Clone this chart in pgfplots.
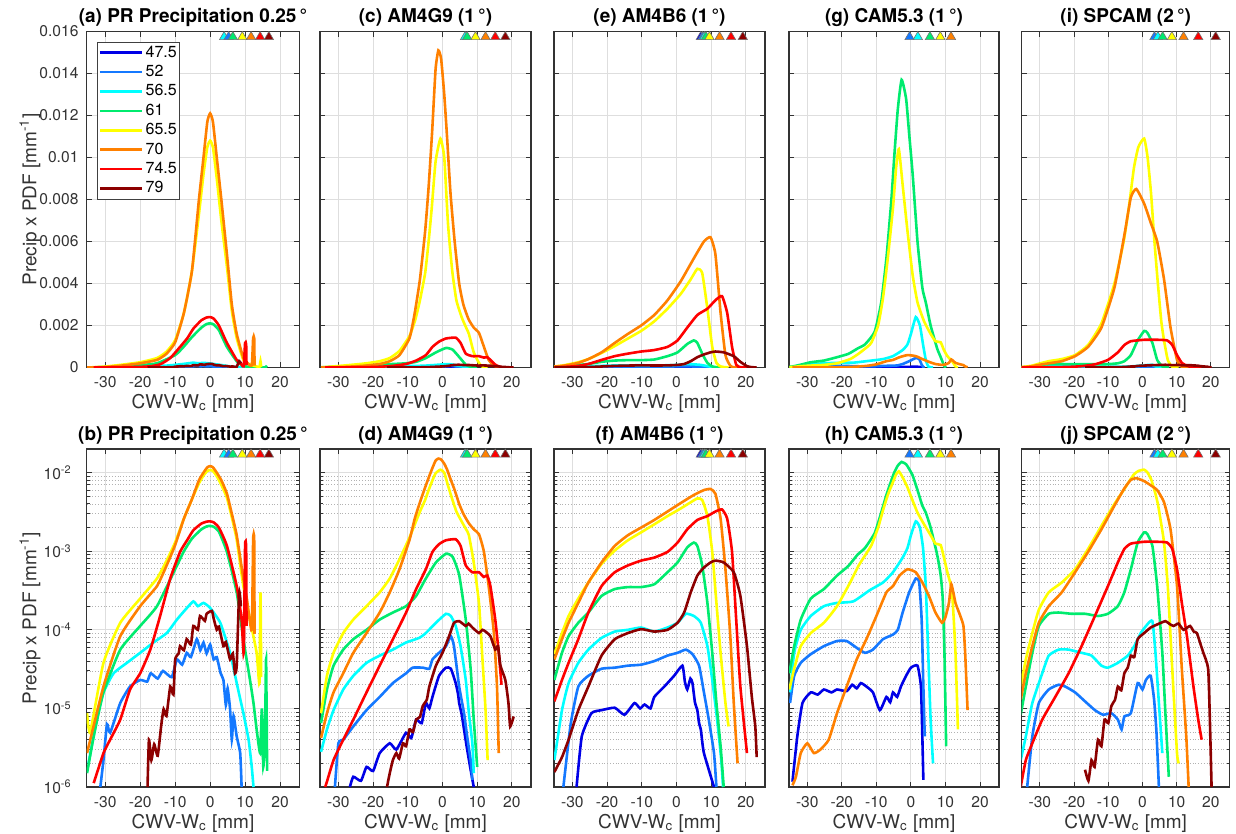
\documentclass[border=0pt]{standalone}
\usepackage{pgfplots}
\usepackage{pgfplotstable}
\pgfplotsset{compat=1.18}
\usepackage{fontspec}
\setmainfont{TeX Gyre Heros}

\definecolor{cA}{RGB}{0,0,230}
\definecolor{cB}{RGB}{20,120,255}
\definecolor{cC}{RGB}{0,255,255}
\definecolor{cD}{RGB}{0,235,110}
\definecolor{cE}{RGB}{255,255,0}
\definecolor{cF}{RGB}{255,128,0}
\definecolor{cG}{RGB}{255,0,0}
\definecolor{cH}{RGB}{140,0,0}

% ---------------- PR Precipitation 0.25 deg ----------------
\pgfplotstableread{
x y
-31.4 1.0e-6
-30.5 2.2e-6
-29.5 6.3e-6
-28.6 4.9e-6
-25.7 1.17e-5
-22.9 1.9e-5
-20 2.3e-5
-18 2.2e-5
-17 2.8e-5
-15 2.4e-5
-13.5 3.0e-5
-11 2.5e-5
-9.5 4.2e-5
-8 3.6e-5
-6.7 5.1e-5
-5.5 4.5e-5
-3.8 7.6e-5
-2.8 5.5e-5
-1.9 6.9e-5
-1 5.0e-5
0 6.5e-5
1 4.2e-5
1.9 4.5e-5
3 2.8e-5
3.8 2.3e-5
4.5 1.1e-5
5 1.8e-5
5.7 9.8e-6
6.2 4.0e-6
6.7 8.0e-6
7.6 4.4e-6
8.6 2.7e-6
9 1.0e-6
}\PRb
\pgfplotstableread{
x y
-34.8 2.0e-6
-32.4 7.2e-6
-30.5 1.6e-5
-27.6 2.8e-5
-23.8 3.8e-5
-20 5.1e-5
-16.2 6.9e-5
-12.4 9.1e-5
-9.5 1.35e-4
-7.1 1.8e-4
-4.8 2.3e-4
-3.5 2.0e-4
-1.9 2.2e-4
0 1.9e-4
2.9 1.23e-4
5.7 5.1e-5
7.6 2.1e-5
9.5 8.7e-6
11 4.0e-6
11.9 1.8e-6
12.4 1.0e-6
}\PRc
\pgfplotstableread{
x y
-35.2 1.5e-6
-33.3 4.4e-6
-30.5 1.6e-5
-25.7 5.6e-5
-20 1.12e-4
-15.2 2.0e-4
-10 5.9e-4
-7.5 1.0e-3
-5.2 1.45e-3
-2.5 1.9e-3
-1 2.07e-3
0 2.1e-3
1 2.05e-3
2.5 1.78e-3
4.8 9.8e-4
7.6 3.0e-4
9.5 7.6e-5
11.4 2.3e-5
12.4 1.17e-5
13.3 5.4e-6
14.3 2.7e-6
14.8 1.0e-5
15.2 1.8e-6
15.7 5.0e-6
16.0 4.2e-5
16.3 1.6e-6
}\PRd
\pgfplotstableread{
x y
-35.2 8.7e-6
-34.3 5.0e-6
-30.5 3.8e-5
-25.7 1.23e-4
-20 2.5e-4
-15.2 4.5e-4
-12.5 7.5e-4
-10 1.3e-3
-7.5 2.6e-3
-5.2 4.6e-3
-3.2 7.3e-3
-1.9 9.2e-3
-0.8 1.05e-2
0 1.08e-2
0.8 1.05e-2
1.9 9.0e-3
3.2 7.0e-3
4.8 4.8e-3
6.2 2.7e-3
7.6 1.4e-3
9.5 3.6e-4
11.4 1.35e-4
13.3 5.1e-5
14.1 2.1e-5
14.4 3.0e-4
14.6 2.5e-5
}\PRe
\pgfplotstableread{
x y
-35.2 2.7e-6
-30.5 1.9e-5
-25.7 8.3e-5
-20 2.0e-4
-15.2 3.6e-4
-12.5 6.5e-4
-10 1.2e-3
-7.5 2.6e-3
-5.2 4.6e-3
-3.2 8.0e-3
-1.9 1.0e-2
-0.8 1.17e-2
0 1.21e-2
0.8 1.17e-2
1.9 1.0e-2
3.2 8.0e-3
4.8 5.4e-3
6.2 3.0e-3
7.6 1.6e-3
9.5 4.5e-4
10.5 2.5e-4
11.9 1.0e-4
12.3 1.4e-3
12.6 1.4e-3
12.7 8.9e-5
}\PRf
\pgfplotstableread{
x y
-33.3 1.12e-6
-30.5 2.7e-6
-28.6 4.0e-6
-25.7 7.2e-6
-22.9 1.74e-5
-20 2.8e-5
-17.1 5.6e-5
-14.3 1.5e-4
-11.4 4.5e-4
-8.6 9.8e-4
-6.5 1.4e-3
-4.8 1.85e-3
-2.5 2.25e-3
-1 2.38e-3
0 2.4e-3
1 2.33e-3
2.5 2.0e-3
4.8 1.17e-3
7.6 3.6e-4
9.0 1.35e-4
9.6 5.1e-5
10.0 1.17e-3
10.3 1.1e-3
10.4 1.12e-4
}\PRg
\pgfplotstableread{
x y
-17.9 1.0e-6
-17.5 4.0e-6
-16.8 2.2e-6
-16 3.5e-6
-15 2.5e-6
-14 6.0e-6
-13.3 9.8e-6
-12.5 8.0e-6
-11.4 1.9e-5
-10.5 1.5e-5
-10 4.2e-5
-9 5.0e-5
-8.6 6.2e-5
-7.5 5.5e-5
-6.7 7.6e-5
-5.5 6.5e-5
-4.8 1.12e-4
-3.5 1.0e-4
-2.9 1.5e-4
-1.5 1.3e-4
-1 1.6e-4
0.5 1.74e-4
1 1.4e-4
1.9 1.0e-4
2.5 1.1e-4
3.8 6.2e-5
4.5 7.0e-5
5.7 4.2e-5
6.5 5.0e-5
7.1 2.8e-5
7.6 3.5e-5
8.3 3.0e-4
8.8 2.0e-4
}\PRh

% ---------------- AM4G9 ----------------
\pgfplotstableread{
x y
-26.7 1.0e-6
-25.7 1.35e-6
-23.5 1.2e-6
-21.9 1.8e-6
-20 1.6e-6
-18.1 2.7e-6
-15.2 3.6e-6
-13.3 3.0e-6
-10.5 4.9e-6
-9 4.2e-6
-7.6 7.2e-6
-6 6.5e-6
-4.8 1.17e-5
-3.8 1.0e-5
-2.9 1.4e-5
-1 2.6e-5
1 3.3e-5
2.4 3.2e-5
3.8 2.1e-5
4.5 1.5e-5
4.8 1.17e-5
5.5 8.5e-6
6.2 5.4e-6
7.1 3.0e-6
8.1 1.66e-6
9 1.0e-6
}\GNa
\pgfplotstableread{
x y
-31 1.0e-6
-30 3.6e-6
-28.6 4.0e-6
-25.7 5.9e-6
-21.9 9.5e-6
-18.1 1.4e-5
-14.3 2.1e-5
-10.5 2.8e-5
-8.6 3.3e-5
-5.7 3.3e-5
-3.8 3.2e-5
-2.9 4.2e-5
-1 5.1e-5
1 6.2e-5
2.4 8.3e-5
3.3 6.2e-5
4.8 1.9e-5
6.2 8.7e-6
7.1 4.4e-6
8.1 2.2e-6
8.6 1.23e-6
}\GNb
\pgfplotstableread{
x y
-35 2.8e-6
-33.3 5.4e-6
-31.4 9.5e-6
-28.6 1.74e-5
-25.7 2.6e-5
-21.9 3.8e-5
-18.1 4.7e-5
-14.3 5.6e-5
-10.5 6.9e-5
-6.7 7.9e-5
-4.8 9.1e-5
-1.9 1.23e-4
1 1.6e-4
2.4 1.5e-4
3.8 1.12e-4
5.2 6.2e-5
6.7 2.3e-5
7.6 8.7e-6
8.6 3.6e-6
9 1.5e-6
}\GNc
\pgfplotstableread{
x y
-35 6.5e-6
-33.3 1.74e-5
-31.4 3.5e-5
-28.6 5.6e-5
-25.7 7.6e-5
-21.9 1.0e-4
-18.1 1.35e-4
-14.3 1.66e-4
-10.5 2.0e-4
-7.6 2.7e-4
-4.8 4.5e-4
-1.9 7.2e-4
1 9.3e-4
2.9 8.5e-4
4.8 5.0e-4
6.7 1.35e-4
8.1 3.2e-5
9 7.2e-6
10 1.8e-6
}\GNd
\pgfplotstableread{
x y
-35 8.7e-6
-33.3 2.6e-5
-31.4 5.1e-5
-28.6 9.1e-5
-25.7 1.35e-4
-21.9 2.0e-4
-18.1 3.0e-4
-15.2 4.5e-4
-12.4 7.9e-4
-9.5 1.5e-3
-7.8 2.3e-3
-6.5 3.2e-3
-5 4.5e-3
-4 6.0e-3
-3.1 7.6e-3
-2 9.8e-3
-0.6 1.09e-2
0.5 1.0e-2
1.6 6.8e-3
2.8 4.6e-3
4 3.2e-3
5.5 2.4e-3
6.8 1.9e-3
7.6 1.6e-3
9 7.2e-4
10.5 2.2e-4
11.4 5.1e-5
12.4 9.5e-6
13 2.2e-6
}\GNe
\pgfplotstableread{
x y
-35 4.2e-6
-33.3 8.7e-6
-31.4 1.6e-5
-28.6 2.8e-5
-25.7 5.1e-5
-21.9 9.1e-5
-18.1 1.66e-4
-15.2 3.0e-4
-12.4 5.9e-4
-9.5 1.4e-3
-8 2.6e-3
-6.5 4.2e-3
-5 6.5e-3
-4 8.6e-3
-3 1.12e-2
-2 1.42e-2
-1.2 1.51e-2
-0.4 1.47e-2
0.5 1.3e-2
1.3 1.1e-2
2.3 8.3e-3
3.5 6.0e-3
4.8 4.0e-3
6 3.0e-3
7.5 2.3e-3
9 1.9e-3
10.5 1.65e-3
11.9 1.0e-3
13.3 3.6e-4
14.8 9.1e-5
15.7 1.9e-5
16.2 2.7e-6
}\GNf
\pgfplotstableread{
x y
-33.8 1.0e-6
-33.3 1.17e-6
-31.4 2.2e-6
-28.6 4.0e-6
-25.7 7.2e-6
-21.9 1.6e-5
-18.1 3.5e-5
-14.3 7.6e-5
-10.5 1.66e-4
-7.6 3.3e-4
-4.8 5.9e-4
-2.9 9.8e-4
-1 1.23e-3
1 1.38e-3
3.8 1.42e-3
5.2 1.17e-3
6.7 6.6e-4
8.6 5.4e-4
10.5 5.4e-4
11.9 4.7e-4
12.9 4.9e-4
13.8 3.6e-4
15.2 1.35e-4
16.2 5.1e-5
17 2.0e-5
}\GNg
\pgfplotstableread{
x y
-16 1.0e-6
-15.2 1.5e-6
-14.3 2.2e-6
-13.3 2.7e-6
-12.5 2.3e-6
-11.4 3.6e-6
-10.5 3.3e-6
-9.5 5.4e-6
-8.5 5.0e-6
-7.6 7.2e-6
-6.5 7.8e-6
-5.7 1.07e-5
-4.5 1.3e-5
-3.8 1.9e-5
-1.9 3.5e-5
0 5.1e-5
1.9 8.3e-5
3.3 1.23e-4
4.8 1.29e-4
6.7 1.12e-4
7.5 1.2e-4
8.6 1.07e-4
10.5 9.1e-5
11.5 1.0e-4
12.4 9.5e-5
13.8 8.3e-5
15.2 5.6e-5
16 6.2e-5
16.7 3.5e-5
18.1 2.3e-5
19 1.17e-5
19.5 5.9e-6
20.5 7.9e-6
}\GNh

% ---------------- AM4B6 ----------------
\pgfplotstableread{
x y
-28.8 1.0e-6
-27.3 4.4e-6
-24.5 8.7e-6
-21.6 9.5e-6
-17.8 1.02e-5
-15 8.3e-6
-12.1 1.17e-5
-10.5 1.0e-5
-9.2 1.12e-5
-7.5 1.0e-5
-6.4 1.4e-5
-3.5 1.9e-5
-0.7 2.6e-5
1.7 3.5e-5
2.4 2.2e-5
3.1 1.74e-5
4.0 2.4e-5
4.6 2.1e-5
5.3 1.2e-5
6 9.5e-6
6.5 6.5e-6
7 5.4e-6
7.5 3.5e-6
7.9 2.7e-6
9.3 1.66e-6
10.8 1.0e-6
}\BSa
\pgfplotstableread{
x y
-32.6 1.0e-6
-30.5 6.3e-6
-28.3 1.9e-5
-25.4 2.6e-5
-21.6 3.2e-5
-17.8 3.3e-5
-14 3.5e-5
-10.2 3.6e-5
-6.4 4.0e-5
-2.6 4.7e-5
0.3 5.1e-5
2.7 5.6e-5
4.6 4.9e-5
6.5 3.5e-5
7.9 1.6e-5
9.3 7.2e-6
10.8 2.7e-6
11.5 1.0e-6
}\BSb
\pgfplotstableread{
x y
-35.2 2.2e-6
-33 9.5e-6
-31.1 2.1e-5
-28.3 3.8e-5
-25.4 5.6e-5
-21.6 7.9e-5
-17.8 9.5e-5
-14 1.0e-4
-10.2 1.07e-4
-6.4 9.5e-5
-2.6 1.07e-4
0.3 1.23e-4
2.7 1.6e-4
5 1.5e-4
7 1.23e-4
8.9 6.2e-5
10.3 2.3e-5
11.7 7.2e-6
12.9 2.2e-6
13.4 1.0e-6
}\BSc
\pgfplotstableread{
x y
-35.2 2.3e-5
-33 5.1e-5
-31.1 8.3e-5
-28.3 1.23e-4
-25.4 1.66e-4
-21.6 2.7e-4
-17.8 3.3e-4
-14 3.5e-4
-10.2 3.5e-4
-6.4 3.8e-4
-2.6 5.4e-4
0.3 7.2e-4
3.1 1.12e-3
5 1.29e-3
6 1.17e-3
7.4 6.6e-4
8.9 2.2e-4
10.3 5.1e-5
11.5 1.17e-5
12.7 3.3e-6
13.6 1.0e-6
}\BSd
\pgfplotstableread{
x y
-35.2 4.9e-5
-33 9.1e-5
-31.1 1.5e-4
-28.3 2.5e-4
-25.4 4.0e-4
-21.6 6.9e-4
-17.8 1.02e-3
-14 1.38e-3
-10.2 1.74e-3
-6.4 2.2e-3
-2.6 2.8e-3
1.2 3.5e-3
4.1 4.2e-3
6 4.7e-3
7.4 4.5e-3
8.9 2.8e-3
10.3 9.8e-4
11.5 2.2e-4
12.7 5.1e-5
14.1 1.17e-5
15 5.9e-6
}\BSe
\pgfplotstableread{
x y
-35.2 4.2e-5
-33 7.6e-5
-31.1 1.23e-4
-28.3 2.2e-4
-25.4 4.0e-4
-21.6 7.2e-4
-17.8 1.17e-3
-14 1.6e-3
-10.2 2.0e-3
-6.4 2.5e-3
-2.6 3.2e-3
1.2 4.1e-3
5 5.2e-3
7.9 6.0e-3
9.8 6.2e-3
11.2 5.4e-3
12.7 2.6e-3
14.1 5.9e-4
15.5 8.3e-5
16.5 1.17e-5
17.6 2.0e-6
}\BSf
\pgfplotstableread{
x y
-35.2 1.23e-5
-33 2.3e-5
-31.1 3.8e-5
-28.3 7.6e-5
-25.4 1.66e-4
-21.6 3.6e-4
-17.8 5.4e-4
-14 6.6e-4
-10.2 7.6e-4
-6.4 8.3e-4
-2.6 9.8e-4
0.3 1.29e-3
3.1 1.9e-3
6 2.5e-3
8.9 2.8e-3
11.2 3.2e-3
13.1 3.4e-3
14.6 2.6e-3
16 9.8e-4
17.2 1.35e-4
18.4 1.9e-5
20.3 2.7e-6
}\BSg
\pgfplotstableread{
x y
-35.2 1.55e-6
-33 2.4e-6
-31.1 4.0e-6
-28.3 9.5e-6
-25.4 1.9e-5
-21.6 4.7e-5
-17.8 7.6e-5
-14 9.1e-5
-10.2 1.02e-4
-6.4 9.5e-5
-2.6 1.0e-4
0.3 1.23e-4
2.2 1.66e-4
4.1 3.0e-4
6 4.9e-4
7.9 6.2e-4
9.8 7.2e-4
11.2 7.6e-4
13.6 7.2e-4
16.5 5.4e-4
18.4 2.7e-4
20.3 6.2e-5
21.7 1.4e-5
22.7 5.9e-6
23.1 2.4e-6
}\BSh

% ---------------- CAM5.3 ----------------
\pgfplotstableread{
x y
-34.3 1.17e-6
-32.9 4.4e-6
-31.4 1.17e-5
-29 1.6e-5
-27 1.5e-5
-25.2 1.74e-5
-23 1.6e-5
-21.4 1.74e-5
-18.6 1.66e-5
-17 2.0e-5
-15.7 1.8e-5
-14.5 2.1e-5
-12.9 1.9e-5
-11 1.6e-5
-9 9.5e-6
-7.1 1.4e-5
-6 1.2e-5
-5.2 1.6e-5
-4 1.4e-5
-2.9 1.9e-5
-1.4 2.6e-5
0 3.3e-5
1.9 3.5e-5
2.9 1.9e-5
3.3 4.4e-6
3.6 1.23e-6
}\CMa
\pgfplotstableread{
x y
-35 1.17e-5
-33.8 2.6e-5
-31.9 3.8e-5
-29 4.9e-5
-25.2 6.2e-5
-21.4 7.2e-5
-18.6 7.2e-5
-15.7 5.9e-5
-13.3 5.1e-5
-11 5.6e-5
-8.1 7.6e-5
-5.2 8.7e-5
-3.8 1.0e-4
-2.4 1.66e-4
-0.5 3.0e-4
1.4 4.5e-4
2.4 4.0e-4
3.1 1.35e-4
3.6 1.9e-5
4 4.4e-6
}\CMb
\pgfplotstableread{
x y
-35 1.6e-5
-33.8 5.1e-5
-31.9 1.0e-4
-29 1.5e-4
-25.2 2.0e-4
-21.4 2.2e-4
-16.7 2.3e-4
-11.9 3.2e-4
-8.1 4.0e-4
-5.2 5.4e-4
-2.4 8.3e-4
-1 1.1e-3
0 1.6e-3
1.4 2.4e-3
2.6 2.0e-3
3.5 1.1e-3
4.3 3.6e-4
5 5.1e-5
5.7 7.2e-6
6.4 2.0e-6
}\CMc
\pgfplotstableread{
x y
-35.2 2.8e-5
-33.8 6.2e-5
-31.9 1.35e-4
-29 2.5e-4
-25.2 3.3e-4
-21.4 4.9e-4
-18.1 6.5e-4
-15.5 9.0e-4
-13.3 1.1e-3
-10.5 1.7e-3
-8.6 3.1e-3
-7.1 5.2e-3
-5.7 7.9e-3
-4.8 1.01e-2
-3.8 1.23e-2
-2.7 1.37e-2
-1.4 1.28e-2
-0.5 1.11e-2
0.5 9.2e-3
1.9 6.0e-3
3.3 3.8e-3
4.3 3.1e-3
5.7 2.0e-3
7.6 9.0e-4
8.6 5.0e-4
9.2 2.5e-4
9.7 5.1e-5
10.2 3.3e-6
}\CMd
\pgfplotstableread{
x y
-35.2 1.74e-5
-33.8 3.2e-5
-31.9 6.2e-5
-29 9.1e-5
-25.2 1.23e-4
-21.4 2.0e-4
-17.6 4.0e-4
-15.2 6.5e-4
-12.5 1.0e-3
-11.4 1.2e-3
-9.5 2.0e-3
-8.1 3.3e-3
-6.7 5.2e-3
-5.2 7.6e-3
-4.3 9.5e-3
-3.5 1.04e-2
-2.4 8.7e-3
-1 6.5e-3
0.5 4.4e-3
1.9 3.1e-3
3.8 2.2e-3
5.7 1.6e-3
7.1 1.25e-3
8.6 1.2e-3
9.5 8.5e-4
10.5 5.5e-4
11.9 3.0e-4
12.9 5.1e-5
13.6 5.4e-6
}\CMe
\pgfplotstableread{
x y
-34.3 1.05e-6
-33.3 1.35e-6
-31.9 2.7e-6
-30 3.6e-6
-28.1 2.7e-6
-26.2 3.0e-6
-23.8 4.0e-6
-21.4 8.7e-6
-18.6 1.9e-5
-15.7 4.2e-5
-12.9 7.6e-5
-10 1.5e-4
-7.1 3.0e-4
-5.2 3.6e-4
-3.3 4.9e-4
-1 5.9e-4
1.4 5.4e-4
3.3 4.0e-4
5.2 2.7e-4
7.1 1.66e-4
9 1.23e-4
10 1.45e-4
11 2.2e-4
11.7 3.8e-4
12.9 2.2e-4
14.3 1.5e-4
15.2 1.12e-4
15.7 5.1e-5
16.4 9.5e-6
}\CMf

% ---------------- SPCAM ----------------
\pgfplotstableread{
x y
-33.7 1.0e-6
-32.2 4.4e-6
-30.3 1.17e-5
-27.4 1.74e-5
-24.5 2.0e-5
-22.6 1.9e-5
-19.7 1.6e-5
-16.8 1.23e-5
-13.9 9.5e-6
-11.5 8.3e-6
-9.1 8.7e-6
-7.2 7.2e-6
-6.1 5.4e-6
-5.3 7.9e-6
-3.4 8.7e-6
-1.4 2.1e-5
0 1.74e-5
1 2.3e-5
2.4 2.6e-5
3.4 1.29e-5
4.1 4.9e-6
4.8 1.0e-6
}\SPb
\pgfplotstableread{
x y
-35.6 2.2e-6
-34.1 4.4e-6
-32.2 1.17e-5
-29.3 2.8e-5
-27.4 4.7e-5
-24.5 5.6e-5
-21.6 5.6e-5
-17.8 5.1e-5
-14.9 4.7e-5
-12 3.5e-5
-10.1 3.3e-5
-7.2 3.8e-5
-4.3 4.7e-5
-2.4 6.2e-5
-0.5 9.1e-5
1.4 1.17e-4
2.9 1.29e-4
3.8 5.1e-5
4.8 1.17e-5
5.8 2.7e-6
}\SPc
\pgfplotstableread{
x y
-35.6 8.3e-6
-34.1 1.9e-5
-32.2 5.1e-5
-30.3 1.12e-4
-27.4 1.6e-4
-24.5 1.66e-4
-20.7 1.6e-4
-16.8 1.6e-4
-13 1.5e-4
-10.1 1.6e-4
-7.2 2.0e-4
-5.3 3.0e-4
-3.4 5.9e-4
-1.4 1.29e-3
0.5 1.74e-3
1.4 1.66e-3
2.9 1.17e-3
4.3 3.6e-4
5.8 5.1e-5
6.7 8.7e-6
7.7 1.35e-6
}\SPd
\pgfplotstableread{
x y
-35.6 1.9e-5
-34.1 4.2e-5
-32.2 9.1e-5
-30.3 1.8e-4
-27.4 3.0e-4
-23.6 4.0e-4
-19.7 5.9e-4
-15.9 1.07e-3
-12 2.1e-3
-8.2 4.0e-3
-5.5 6.0e-3
-4 7.6e-3
-2.5 9.5e-3
-1.2 1.05e-2
0.5 1.09e-2
1.5 1.0e-2
2.5 8.3e-3
3.5 6.0e-3
4.5 4.0e-3
5.5 2.2e-3
6.3 1.29e-3
7.4 3.6e-4
8.7 3.2e-5
10.1 2.7e-6
10.6 2.0e-6
}\SPe
\pgfplotstableread{
x y
-35.6 1.29e-5
-34.1 2.8e-5
-32.2 6.2e-5
-30.3 1.23e-4
-27.4 2.0e-4
-23.6 3.0e-4
-19.7 5.4e-4
-15.9 9.8e-4
-12 1.9e-3
-8.2 3.8e-3
-5.3 6.3e-3
-3.4 8.1e-3
-1.8 8.5e-3
0.5 7.8e-3
2.4 6.9e-3
4.3 6.0e-3
6.3 4.2e-3
8.2 1.9e-3
10.1 3.6e-4
11.5 3.2e-5
12.8 4.4e-6
13.5 1.0e-6
}\SPf
\pgfplotstableread{
x y
-35.6 1.0e-6
-34.1 2.2e-6
-32.2 3.6e-6
-29.3 7.2e-6
-25.5 1.4e-5
-21.6 2.8e-5
-17.8 6.2e-5
-13.9 1.5e-4
-10.1 3.6e-4
-7.2 7.2e-4
-5.3 1.07e-3
-3.4 1.25e-3
0.5 1.32e-3
4.3 1.32e-3
7.2 1.29e-3
8.7 1.07e-3
10.1 5.9e-4
11.5 2.2e-4
13 8.3e-5
14.9 1.9e-5
16.3 7.2e-6
17.3 4.0e-6
}\SPg
\pgfplotstableread{
x y
-16.8 1.66e-6
-15.8 1.2e-6
-14.9 2.2e-6
-14 1.8e-6
-13 4.0e-6
-12 3.3e-6
-11.1 7.2e-6
-10 6.5e-6
-9.1 1.07e-5
-8 1.3e-5
-7.2 1.9e-5
-6.2 1.7e-5
-5.3 2.8e-5
-4.3 3.3e-5
-3.4 4.7e-5
-2.4 4.5e-5
-1.4 7.6e-5
0.5 9.1e-5
2.4 1.07e-4
4.3 1.17e-4
6.7 1.29e-4
8 1.18e-4
9.1 1.12e-4
10.5 1.2e-4
12 1.0e-4
13.9 1.12e-4
15 9.5e-5
15.9 9.1e-5
17 6.5e-5
17.8 5.1e-5
19.2 3.2e-5
19.7 7.2e-6
20.2 1.0e-6
}\SPh

\newcommand\series[2]{\addplot[#1, line width=1.3pt, smooth, tension=0.3, forget plot] table[x=x,y=y] {#2};}
\newcommand\tri[3]{\addplot[only marks, mark=triangle*, mark size=2.7pt, mark options={fill=#1, draw=black!55, line width=0.3pt}, forget plot] coordinates {(#2,#3)};}

\newcommand\drawPR{\series{cB}{\PRb}\series{cC}{\PRc}\series{cD}{\PRd}\series{cE}{\PRe}\series{cF}{\PRf}\series{cG}{\PRg}\series{cH}{\PRh}}
\newcommand\drawGN{\series{cA}{\GNa}\series{cB}{\GNb}\series{cC}{\GNc}\series{cD}{\GNd}\series{cE}{\GNe}\series{cF}{\GNf}\series{cG}{\GNg}\series{cH}{\GNh}}
\newcommand\drawBS{\series{cA}{\BSa}\series{cB}{\BSb}\series{cC}{\BSc}\series{cD}{\BSd}\series{cE}{\BSe}\series{cF}{\BSf}\series{cG}{\BSg}\series{cH}{\BSh}}
\newcommand\drawCM{\series{cA}{\CMa}\series{cB}{\CMb}\series{cC}{\CMc}\series{cD}{\CMd}\series{cE}{\CMe}\series{cF}{\CMf}}
\newcommand\drawSP{\series{cB}{\SPb}\series{cC}{\SPc}\series{cD}{\SPd}\series{cE}{\SPe}\series{cF}{\SPf}\series{cG}{\SPg}\series{cH}{\SPh}}

\newcommand\triPR[1]{\tri{cC}{4.0}{#1}\tri{cB}{5.3}{#1}\tri{cD}{6.5}{#1}\tri{cE}{9.2}{#1}\tri{cF}{11.7}{#1}\tri{cG}{14.3}{#1}\tri{cH}{16.8}{#1}}
\newcommand\triGN[1]{\tri{cC}{6.5}{#1}\tri{cD}{7.1}{#1}\tri{cE}{9.5}{#1}\tri{cF}{12.4}{#1}\tri{cG}{15.2}{#1}\tri{cH}{18.1}{#1}}
\newcommand\triBS[1]{\tri{cA}{7.0}{#1}\tri{cB}{7.5}{#1}\tri{cC}{8.0}{#1}\tri{cD}{8.5}{#1}\tri{cE}{9.5}{#1}\tri{cF}{12.4}{#1}\tri{cG}{15.7}{#1}\tri{cH}{19.1}{#1}}
\newcommand\triCM[1]{\tri{cB}{-0.4}{#1}\tri{cC}{2.0}{#1}\tri{cD}{5.5}{#1}\tri{cE}{8.5}{#1}\tri{cF}{11.6}{#1}}
\newcommand\triSP[1]{\tri{cB}{3.5}{#1}\tri{cC}{4.5}{#1}\tri{cD}{5.9}{#1}\tri{cE}{8.6}{#1}\tri{cF}{12.0}{#1}\tri{cG}{16.3}{#1}\tri{cH}{21.4}{#1}}

\pgfplotsset{
  base/.style={
    scale only axis, anchor=south west,
    xmin=-35.3, xmax=25.5,
    xtick={-30,-20,-10,0,10,20},
    xticklabels={-30,-20,-10,0,10,20},
    xmajorgrids, ymajorgrids,
    major grid style={color=black!13, line width=0.45pt},
    axis line style={color=black!80, line width=0.55pt},
    tick style={color=black!80, line width=0.45pt},
    major tick length=2.6pt, minor tick length=1.6pt,
    tick align=inside,
    ticklabel style={font=\fontsize{7.8}{9}\selectfont, text=black!80},
    xticklabel style={anchor=center, yshift=-7.3pt},
    xlabel={CWV-W\textsubscript{c} [mm]},
    xlabel style={at={(axis description cs:0.5,0)}, anchor=center, yshift=-18pt, font=\fontsize{9.5}{11}\selectfont, text=black!80},
    title style={at={(axis description cs:0.5,1)}, anchor=center, yshift=1pt, font=\fontsize{9.5}{11}\selectfont\bfseries},
    ylabel style={at={(axis description cs:-0.267,0.5)}, anchor=center, font=\fontsize{9.5}{11}\selectfont, text=black!80},
  },
  lin/.style={base, height=168pt, ymin=0, ymax=0.016,
    ytick={0,0.002,0.004,0.006,0.008,0.01,0.012,0.014,0.016},
    scaled y ticks=false, yticklabels={}},
  lg/.style={base, height=169pt, ymin=1e-6, ymax=0.02,
    ytick={1e-6,1e-5,1e-4,1e-3,1e-2},
    minor ytick={2e-6,3e-6,4e-6,5e-6,6e-6,7e-6,8e-6,9e-6,2e-5,3e-5,4e-5,5e-5,6e-5,7e-5,8e-5,9e-5,2e-4,3e-4,4e-4,5e-4,6e-4,7e-4,8e-4,9e-4,2e-3,3e-3,4e-3,5e-3,6e-3,7e-3,8e-3,9e-3},
    yminorgrids, minor grid style={densely dotted, color=black!30, line width=0.4pt},
    yticklabels={}},
  legend image code/.code={\draw[#1] (0pt,0pt) -- (21pt,0pt);},
}

\begin{document}
\begin{tikzpicture}
\path[use as bounding box] (0,0) rectangle (618pt,417pt);

% ---- top row ----
\begin{axis}[lin, at={(43.35pt,233.25pt)}, width=106.3pt,
  title={(a) PR Precipitation 0.25\,°},
  ylabel={Precip x PDF [mm\textsuperscript{-1}]},
  yticklabels={0,0.002,0.004,0.006,0.008,0.01,0.012,0.014,0.016},
  yticklabel style={xshift=-0.6pt},
  legend style={at={(axis description cs:0.047,0.969)}, anchor=north west,
    draw=black!75, line width=0.4pt, fill=white, inner sep=0.8pt,
    font=\fontsize{8}{9}\selectfont, text=black, row sep=0.9pt, column sep=0.5pt,
    nodes={inner sep=0.7pt, text height=5.9pt, text depth=1.5pt}},
  legend cell align=left]
\addlegendimage{cA, line width=1.3pt}\addlegendentry{47.5}
\addlegendimage{cB, line width=1.3pt}\addlegendentry{52}
\addlegendimage{cC, line width=1.3pt}\addlegendentry{56.5}
\addlegendimage{cD, line width=1.3pt}\addlegendentry{61}
\addlegendimage{cE, line width=1.3pt}\addlegendentry{65.5}
\addlegendimage{cF, line width=1.3pt}\addlegendentry{70}
\addlegendimage{cG, line width=1.3pt}\addlegendentry{74.5}
\addlegendimage{cH, line width=1.3pt}\addlegendentry{79}
\drawPR
\triPR{0.01574}
\end{axis}

\begin{axis}[lin, at={(160pt,233.25pt)}, width=105.5pt, title={(c) AM4G9 (1\,°)}]
\drawGN
\triGN{0.01574}
\end{axis}

\begin{axis}[lin, at={(277pt,233.25pt)}, width=105.5pt, title={(e) AM4B6 (1\,°)}]
\drawBS
\triBS{0.01574}
\end{axis}

\begin{axis}[lin, at={(394.5pt,233.25pt)}, width=105pt, title={(g) CAM5.3 (1\,°)}]
\drawCM
\triCM{0.01574}
\end{axis}

\begin{axis}[lin, at={(510.85pt,233.25pt)}, width=104pt, title={(i) SPCAM (2\,°)}]
\drawSP
\triSP{0.01574}
\end{axis}

% ---- bottom row ----
\begin{semilogyaxis}[lg, at={(43.35pt,23.5pt)}, width=106.3pt,
  title={(b) PR Precipitation 0.25\,°},
  ylabel={Precip x PDF [mm\textsuperscript{-1}]},
  yticklabels={10\textsuperscript{-6},10\textsuperscript{-5},10\textsuperscript{-4},10\textsuperscript{-3},10\textsuperscript{-2}},
  yticklabel style={xshift=-4pt}]
\drawPR
\triPR{0.01706}
\end{semilogyaxis}

\begin{semilogyaxis}[lg, at={(160pt,23.5pt)}, width=105.5pt, title={(d) AM4G9 (1\,°)}]
\drawGN
\triGN{0.01706}
\end{semilogyaxis}

\begin{semilogyaxis}[lg, at={(277pt,23.5pt)}, width=105.5pt, title={(f) AM4B6 (1\,°)}]
\drawBS
\triBS{0.01706}
\end{semilogyaxis}

\begin{semilogyaxis}[lg, at={(394.5pt,23.5pt)}, width=105pt, title={(h) CAM5.3 (1\,°)}]
\drawCM
\triCM{0.01706}
\end{semilogyaxis}

\begin{semilogyaxis}[lg, at={(510.85pt,23.5pt)}, width=104pt, title={(j) SPCAM (2\,°)}]
\drawSP
\triSP{0.01706}
\end{semilogyaxis}
\end{tikzpicture}
\end{document}
